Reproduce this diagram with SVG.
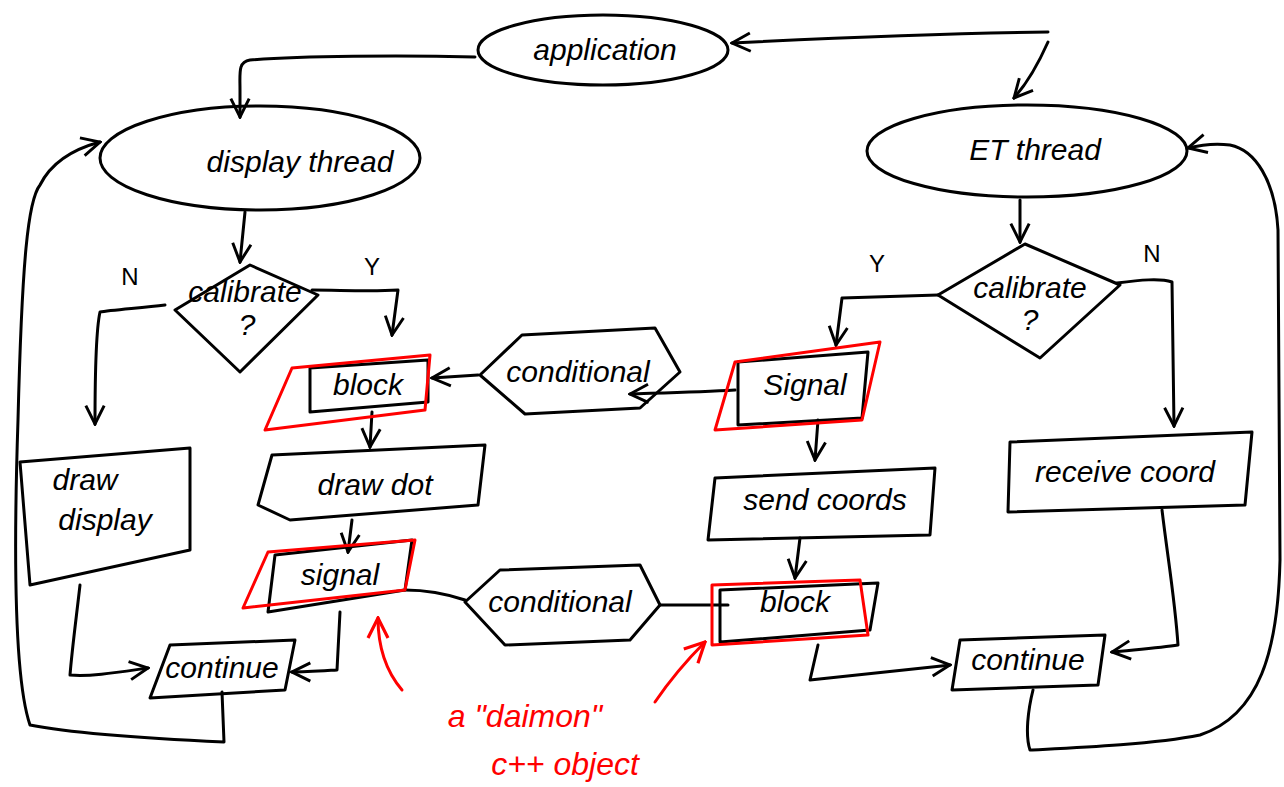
<svg xmlns="http://www.w3.org/2000/svg" width="1284" height="787" viewBox="0 0 1284 787">
<defs>
<style>
.s{fill:none;stroke:#000;stroke-width:3;stroke-linecap:round;stroke-linejoin:round}
.r{fill:none;stroke:#f00;stroke-width:3;stroke-linecap:round;stroke-linejoin:round}
.t{font-family:"Liberation Sans",Arial,sans-serif;font-size:30px;fill:#000;text-anchor:middle;font-style:italic}
.tr{font-family:"Liberation Sans",Arial,sans-serif;font-size:32px;fill:#f00;text-anchor:middle;font-style:italic}
.l{font-family:"Liberation Sans",Arial,sans-serif;font-size:24px;fill:#000;text-anchor:middle}
</style>
<marker id="a" viewBox="0 0 12 12" refX="11" refY="6" markerWidth="22" markerHeight="22" markerUnits="userSpaceOnUse" orient="auto">
<path d="M1,1 L11,6 L1,11" fill="none" stroke="#000" stroke-width="1.6"/>
</marker>
<marker id="ar" viewBox="0 0 12 12" refX="11" refY="6" markerWidth="24" markerHeight="24" markerUnits="userSpaceOnUse" orient="auto">
<path d="M1,1 L11,6 L1,11" fill="none" stroke="#f00" stroke-width="1.6"/>
</marker>
</defs>
<rect width="1284" height="787" fill="#fff"/>

<g id="connectors">
<path class="s" d="M475,57 C400,55 300,56 250,60 C238,62 240,72 240,90 L240,117" marker-end="url(#a)"/>
<path class="s" d="M1048,32 C950,33 850,37 732,43" marker-end="url(#a)"/>
<path class="s" d="M1048,42 C1040,60 1030,80 1014,98" marker-end="url(#a)"/>
<path class="s" d="M222,692 L224,742 C180,740 80,735 30,725 C18,690 12,600 18,420 C22,260 28,200 40,185 C50,165 70,150 100,142" marker-end="url(#a)"/>
<path class="s" d="M245,212 L240,262" marker-end="url(#a)"/>
<path class="s" d="M165,305 C140,308 110,310 100,312 C96,330 95,380 95,424" marker-end="url(#a)"/>
<path class="s" d="M312,290 C340,290 370,292 398,290 L392,335" marker-end="url(#a)"/>
<path class="s" d="M735,390 C700,392 660,393 630,394" marker-end="url(#a)"/>
<path class="s" d="M478,375 L432,378" marker-end="url(#a)"/>
<path class="s" d="M372,412 L370,447" marker-end="url(#a)"/>
<path class="s" d="M352,520 L348,552" marker-end="url(#a)"/>
<path class="s" d="M405,590 C430,590 450,595 465,600"/>
<path class="s" d="M660,605 L728,605"/>
<path class="s" d="M818,420 L815,460" marker-end="url(#a)"/>
<path class="s" d="M800,538 L795,578" marker-end="url(#a)"/>
<path class="s" d="M1020,200 L1020,242" marker-end="url(#a)"/>
<path class="s" d="M938,295 C900,296 870,297 842,298 L836,345" marker-end="url(#a)"/>
<path class="s" d="M1117,283 C1140,280 1160,278 1172,282 L1174,426" marker-end="url(#a)"/>
<path class="s" d="M1162,510 C1168,560 1175,600 1178,645 C1160,648 1130,650 1112,652" marker-end="url(#a)"/>
<path class="s" d="M818,645 L810,680 C850,676 900,670 950,665" marker-end="url(#a)"/>
<path class="s" d="M1033,690 C1028,710 1025,735 1030,750 C1070,748 1150,745 1200,735 C1260,715 1278,650 1280,560 L1278,230 C1275,180 1255,150 1230,145 C1215,143 1200,145 1188,148" marker-end="url(#a)"/>
<path class="s" d="M80,585 C76,620 72,650 70,675 C90,677 120,672 148,668" marker-end="url(#a)"/>
<path class="s" d="M340,612 L337,670 C320,671 305,672 292,672" marker-end="url(#a)"/>
<path class="r" d="M402,690 C385,670 378,645 378,618" marker-end="url(#ar)"/>
<path class="r" d="M655,702 C670,680 685,662 705,642" marker-end="url(#ar)"/>
</g>

<g id="application">
<ellipse class="s" cx="603" cy="50" rx="125" ry="35"/>
<text class="t" x="605" y="60">application</text>
</g>
<g id="display-thread">
<ellipse class="s" cx="260" cy="158" rx="160" ry="52"/>
<text class="t" x="300" y="172">display thread</text>
</g>
<g id="et-thread">
<ellipse class="s" cx="1027" cy="151" rx="160" ry="46"/>
<text class="t" x="1035" y="160">ET thread</text>
</g>
<g id="calibrate-left">
<path class="s" d="M250,265 L318,295 L240,372 L175,310 Z"/>
<text class="t" x="245" y="302" font-size="21">calibrate</text>
<text class="t" x="247" y="335" font-size="22">?</text>
</g>
<g id="calibrate-right">
<path class="s" d="M1025,244 L1120,285 L1040,358 L938,295 Z"/>
<text class="t" x="1030" y="298" font-size="23">calibrate</text>
<text class="t" x="1030" y="330" font-size="22">?</text>
</g>
<g id="labels">
<text class="l" x="130" y="285">N</text>
<text class="l" x="372" y="275">Y</text>
<text class="l" x="877" y="272">Y</text>
<text class="l" x="1152" y="262">N</text>
</g>
<g id="draw-display">
<path class="s" d="M20,462 L190,448 L190,550 L30,585 Z"/>
<text class="t" x="85" y="490">draw</text>
<text class="t" x="105" y="530">display</text>
</g>
<g id="block-left">
<path class="s" d="M310,368 L428,360 L428,402 L310,412 Z"/>
<path class="r" d="M265,430 L292,368 L430,355 L425,410 Z"/>
<text class="t" x="368" y="395">block</text>
</g>
<g id="conditional-top">
<path class="s" d="M480,375 L522,335 L655,328 L680,372 L640,408 L525,414 Z"/>
<text class="t" x="578" y="382">conditional</text>
</g>
<g id="signal-right">
<path class="s" d="M738,362 L868,352 L862,418 L738,425 Z"/>
<path class="r" d="M715,430 L735,362 L880,342 L862,420 Z"/>
<text class="t" x="805" y="395">Signal</text>
</g>
<g id="draw-dot">
<path class="s" d="M272,455 L485,445 L478,505 L290,520 L258,505 Z"/>
<text class="t" x="375" y="495">draw dot</text>
</g>
<g id="signal-left">
<path class="s" d="M275,555 L412,540 L405,590 L268,612 Z"/>
<path class="r" d="M243,608 L268,552 L415,540 L405,590 Z"/>
<text class="t" x="340" y="585">signal</text>
</g>
<g id="conditional-bottom">
<path class="s" d="M465,602 L500,570 L640,565 L660,605 L630,640 L505,645 Z"/>
<text class="t" x="560" y="612">conditional</text>
</g>
<g id="block-right">
<path class="s" d="M720,590 L878,583 L870,630 L720,642 Z"/>
<path class="r" d="M712,585 L860,580 L868,635 L712,645 Z"/>
<text class="t" x="795" y="612">block</text>
</g>
<g id="send-coords">
<path class="s" d="M715,478 L935,468 L930,535 L708,540 Z"/>
<text class="t" x="825" y="510">send coords</text>
</g>
<g id="receive-coord">
<path class="s" d="M1010,442 L1252,432 L1245,505 L1008,512 Z"/>
<text class="t" x="1125" y="482">receive coord</text>
</g>
<g id="continue-left">
<path class="s" d="M170,645 L295,640 L285,690 L150,698 Z"/>
<text class="t" x="222" y="678">continue</text>
</g>
<g id="continue-right">
<path class="s" d="M960,640 L1105,635 L1098,685 L952,690 Z"/>
<text class="t" x="1028" y="670">continue</text>
</g>
<g id="annotation">
<text class="tr" x="525" y="727">a "daimon"</text>
<text class="tr" x="565" y="775">c++ object</text>
</g>
</svg>
